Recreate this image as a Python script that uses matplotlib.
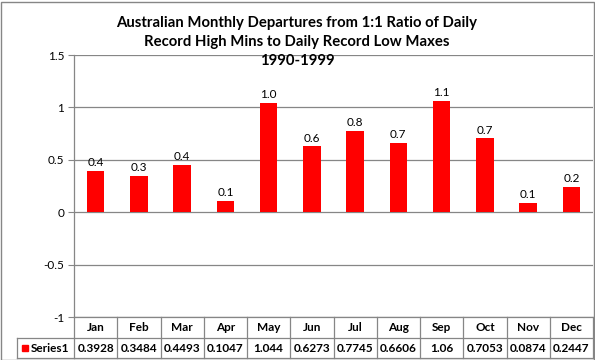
import matplotlib
matplotlib.use("Agg")
import matplotlib.pyplot as plt
from matplotlib.transforms import blended_transform_factory
from matplotlib.patches import Rectangle

months = ["Jan", "Feb", "Mar", "Apr", "May", "Jun", "Jul", "Aug", "Sep", "Oct", "Nov", "Dec"]
values = [0.3928, 0.3484, 0.4493, 0.1047, 1.044, 0.6273, 0.7745, 0.6606, 1.06, 0.7053, 0.0874, 0.2447]
table_text = ["0.3928", "0.3484", "0.4493", "0.1047", "1.044", "0.6273", "0.7745", "0.6606", "1.06", "0.7053", "0.0874", "0.2447"]
series_name = "Series1"
title_lines = ["Australian Monthly Departures from 1:1 Ratio of Daily",
               "Record High Mins to Daily Record Low Maxes",
               "1990-1999"]
yticks = [-1, -0.5, 0, 0.5, 1, 1.5]

plt.rcParams['font.family'] = ['Lato', 'DejaVu Sans']
W, H = 595, 360
fig = plt.figure(figsize=(W / 100, H / 100), dpi=100)
grey = "#868686"

left, right, top, bottom = 74, 593, 55, 317
ax = fig.add_axes([left / W, (H - bottom) / H, (right - left) / W, (bottom - top) / H])
ax.set_xlim(-0.5, len(months) - 0.5)
ax.set_ylim(-1, 1.5)
ax.set_yticks(yticks)
ax.set_yticklabels([f"{t:g}" for t in yticks], fontsize=8.5)
ax.set_xticks([])
ax.tick_params(axis='y', length=4, color=grey, pad=3)
for s in ax.spines.values():
    s.set_color(grey)
    s.set_linewidth(0.9)
ax.spines['right'].set_visible(False)
ax.spines['top'].set_visible(False)
ax.yaxis.grid(True, color=grey, linewidth=0.9)
ax.set_axisbelow(True)

x = list(range(len(months)))
bars = ax.bar(x, values, width=0.4, color="#ff0000", zorder=3)
for xi, v in zip(x, values):
    ax.annotate(f"{v:.1f}", (xi, v), xytext=(0, 2), textcoords="offset points",
                ha="center", va="bottom", fontsize=8.5)

# data table
tr = blended_transform_factory(ax.transData, ax.transAxes)
axh = bottom - top
r1 = -21 / axh
r2 = -41 / axh
lab_left = (17 - left) / (right - left)
lines_kw = dict(color=grey, linewidth=0.9, clip_on=False)
ax.plot([-0.5, 11.5], [r1, r1], transform=tr, **lines_kw)
ax.plot([-0.5, 11.5], [r2, r2], transform=tr, **lines_kw)
ax.plot([lab_left, 0], [r1, r1], transform=ax.transAxes, **lines_kw)
ax.plot([lab_left, 0], [r2, r2], transform=ax.transAxes, **lines_kw)
ax.plot([lab_left, lab_left], [r1, r2], transform=ax.transAxes, **lines_kw)
ax.plot([0, 0], [0, r2], transform=ax.transAxes, **lines_kw)
for i in range(1, len(months) + 1):
    ax.plot([i - 0.5, i - 0.5], [0, r2], transform=tr, **lines_kw)
for i, (m, t) in enumerate(zip(months, table_text)):
    ax.text(i, r1 / 2, m, transform=tr, ha="center", va="center", fontsize=8.5, fontweight="bold")
    ax.text(i, (r1 + r2) / 2, t, transform=tr, ha="center", va="center", fontsize=8.5, fontweight="bold")
kx = (22 - left) / (right - left)
kw = 6 / (right - left)
kh = 6 / axh
ax.add_patch(Rectangle((kx, (r1 + r2) / 2 - kh / 2), kw, kh, transform=ax.transAxes,
                       color="#ff0000", clip_on=False))
ax.text((31 - left) / (right - left), (r1 + r2) / 2, series_name, transform=ax.transAxes,
        ha="left", va="center", fontsize=8.5, fontweight="bold")

for k, line in enumerate(title_lines):
    fig.text(297 / W, 1 - (23 + 19 * k) / H, line, ha="center", va="center", fontsize=10.7,
             fontweight="bold")

fig.patches.append(Rectangle((0.5 / W, 0.5 / H), (W - 2) / W, (H - 2) / H, transform=fig.transFigure,
                             fill=False, edgecolor=grey, linewidth=1))

fig.savefig("out.png", dpi=100)
